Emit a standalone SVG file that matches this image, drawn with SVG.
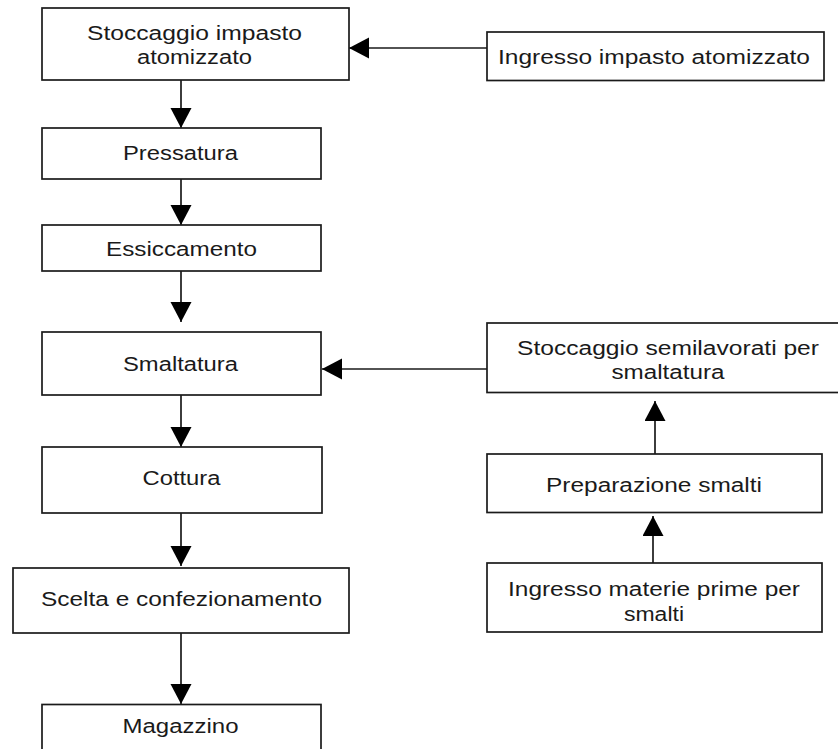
<svg xmlns="http://www.w3.org/2000/svg" width="838" height="749" viewBox="0 0 838 749">
<defs>
<style>
.box{fill:#fff;stroke:#1a1a1a;stroke-width:1.7}
.lbl{font-family:"Liberation Sans",Arial,sans-serif;font-size:20px;fill:#1a1a1a;text-anchor:middle}
.con{stroke:#1a1a1a;stroke-width:1.7;fill:none;marker-end:url(#ah)}
</style>
<marker id="ah" markerUnits="userSpaceOnUse" markerWidth="22" markerHeight="22" refX="20" refY="10.5" orient="auto" viewBox="0 0 22 22">
<path d="M0,0 L20,10.5 L0,21 Z" fill="#000"/>
</marker>
</defs>
<rect width="838" height="749" fill="#fff"/>
<g id="connectors">
<line class="con" x1="181" y1="80" x2="181" y2="128"/>
<line class="con" x1="181" y1="179" x2="181" y2="225"/>
<line class="con" x1="181" y1="271" x2="181" y2="322"/>
<line class="con" x1="181" y1="395" x2="181" y2="447"/>
<line class="con" x1="181" y1="513" x2="181" y2="566"/>
<line class="con" x1="181" y1="633" x2="181" y2="704"/>
<line class="con" x1="487" y1="48" x2="349" y2="48"/>
<line class="con" x1="487" y1="369" x2="322" y2="369"/>
<line class="con" x1="655" y1="454" x2="655" y2="401"/>
<line class="con" x1="653" y1="563" x2="653" y2="516"/>
</g>
<g id="stoccaggio-impasto">
<rect class="box" x="42" y="8" width="307" height="72"/>
<text class="lbl" x="194.5" y="40" textLength="215" lengthAdjust="spacingAndGlyphs">Stoccaggio impasto</text>
<text class="lbl" x="194.5" y="64" textLength="115" lengthAdjust="spacingAndGlyphs">atomizzato</text>
</g>
<g id="ingresso-impasto">
<rect class="box" x="487" y="32" width="337" height="48.5"/>
<text class="lbl" x="654" y="63.5" textLength="312" lengthAdjust="spacingAndGlyphs">Ingresso impasto atomizzato</text>
</g>
<g id="pressatura">
<rect class="box" x="42" y="128" width="279" height="51"/>
<text class="lbl" x="180.5" y="160" textLength="115" lengthAdjust="spacingAndGlyphs">Pressatura</text>
</g>
<g id="essiccamento">
<rect class="box" x="42" y="225" width="279" height="46"/>
<text class="lbl" x="181.5" y="256" textLength="151" lengthAdjust="spacingAndGlyphs">Essiccamento</text>
</g>
<g id="smaltatura">
<rect class="box" x="42" y="332" width="279" height="63"/>
<text class="lbl" x="180.5" y="370.5" textLength="115" lengthAdjust="spacingAndGlyphs">Smaltatura</text>
</g>
<g id="cottura">
<rect class="box" x="42" y="447" width="280" height="66"/>
<text class="lbl" x="181.5" y="484.5" textLength="78" lengthAdjust="spacingAndGlyphs">Cottura</text>
</g>
<g id="scelta">
<rect class="box" x="13" y="568" width="336" height="65"/>
<text class="lbl" x="181.5" y="606" textLength="281" lengthAdjust="spacingAndGlyphs">Scelta e confezionamento</text>
</g>
<g id="magazzino">
<rect class="box" x="42" y="704.5" width="279" height="70"/>
<text class="lbl" x="180.5" y="733" textLength="116" lengthAdjust="spacingAndGlyphs">Magazzino</text>
</g>
<g id="stoccaggio-semilavorati">
<rect class="box" x="487" y="323" width="370" height="69.5"/>
<text class="lbl" x="668" y="354.5" textLength="302" lengthAdjust="spacingAndGlyphs">Stoccaggio semilavorati per</text>
<text class="lbl" x="668" y="378.5" textLength="113" lengthAdjust="spacingAndGlyphs">smaltatura</text>
</g>
<g id="preparazione-smalti">
<rect class="box" x="487" y="454" width="335" height="58.5"/>
<text class="lbl" x="654" y="491.5" textLength="216" lengthAdjust="spacingAndGlyphs">Preparazione smalti</text>
</g>
<g id="ingresso-materie">
<rect class="box" x="487" y="563" width="335" height="69"/>
<text class="lbl" x="654" y="595.5" textLength="292" lengthAdjust="spacingAndGlyphs">Ingresso materie prime per</text>
<text class="lbl" x="654" y="620.5" textLength="60" lengthAdjust="spacingAndGlyphs">smalti</text>
</g>
</svg>
